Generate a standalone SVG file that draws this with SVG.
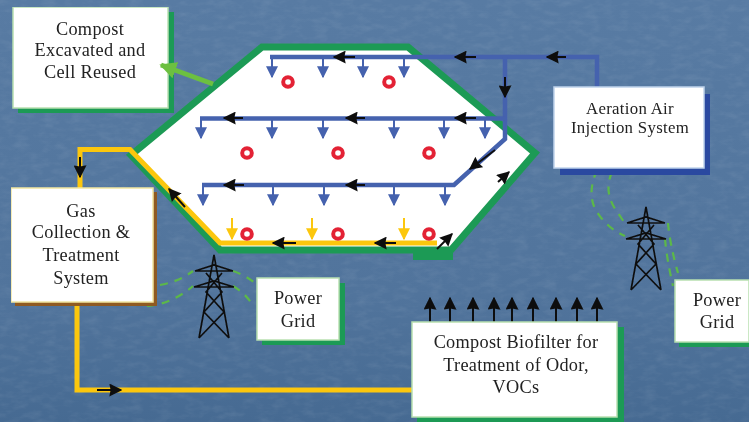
<svg xmlns="http://www.w3.org/2000/svg" width="749" height="422" viewBox="0 0 749 422">
<style>
text{font-family:"Liberation Serif","Times New Roman",serif;font-size:18.300px;letter-spacing:0.3px;fill:#222;text-anchor:middle}
.box{fill:#fff;stroke-width:1.5}
.bl{fill:none;stroke:#4562ae;stroke-width:4.5}
.yl{fill:none;stroke:#fcc710;stroke-width:5}
.gr{fill:none;stroke:#5cb848;stroke-width:2.2;stroke-dasharray:8 7}
.bk{fill:none;stroke:#111;stroke-width:2;marker-end:url(#ah)}
.dr{fill:none;stroke:#4562ae;stroke-width:2;marker-end:url(#bh)}
.yd{fill:none;stroke:#fcc710;stroke-width:2;marker-end:url(#yh)}
.ring{fill:#fff;stroke:#e32434;stroke-width:4}
.tw{fill:none;stroke:#111;stroke-width:1.7}
</style>
<defs>
<linearGradient id="bg" x1="0" y1="0" x2="0" y2="1"><stop offset="0" stop-color="#587ba3"/><stop offset="0.7" stop-color="#51749c"/><stop offset="1" stop-color="#466a92"/></linearGradient>
<filter id="tex" x="0" y="0" width="100%" height="100%"><feTurbulence type="fractalNoise" baseFrequency="0.07 0.16" numOctaves="3" seed="4"/><feColorMatrix values="0 0 0 0 1 0 0 0 0 1 0 0 0 0 1 0.9 0 0 0 -0.38"/></filter>
<filter id="soft" x="0" y="0" width="100%" height="100%"><feGaussianBlur stdDeviation="0.4"/></filter>
<marker id="ah" viewBox="0 0 10 10" refX="9" refY="5" markerWidth="13" markerHeight="13" markerUnits="userSpaceOnUse" orient="auto"><path d="M0 0L10 5L0 10L1 5Z" fill="#111"/></marker>
<marker id="bh" viewBox="0 0 10 10" refX="9" refY="5" markerWidth="12" markerHeight="12" markerUnits="userSpaceOnUse" orient="auto"><path d="M0 0L10 5L0 10Z" fill="#4562ae"/></marker>
<marker id="yh" viewBox="0 0 10 10" refX="9" refY="5" markerWidth="12" markerHeight="12" markerUnits="userSpaceOnUse" orient="auto"><path d="M0 0L10 5L0 10Z" fill="#fcc710"/></marker>
<marker id="lg" viewBox="0 0 10 10" refX="9" refY="5" markerWidth="17" markerHeight="17" markerUnits="userSpaceOnUse" orient="auto"><path d="M0 0L10 5L0 10Z" fill="#6cc040"/></marker>
<g id="tower" class="tw"><path d="M-15 83L0 0L15 83M-15 83L10 57L-8 37L8 18M15 83L-10 57L8 37L-8 18M-19 16H19M-20 32H20M-19 16L0 10L19 16M-20 32L0 26L20 32"/></g>
</defs>
<rect width="749" height="422" fill="url(#bg)"/>
<rect width="749" height="422" filter="url(#tex)" opacity="0.16"/>

<g filter="url(#soft)">
<g id="cell">
<path d="M413 253H453V260H413Z" fill="#1f9a54"/>
<path d="M262 47H408L535 153L451 250H220L131 155Z" fill="#fff" stroke="#1f9a54" stroke-width="7" stroke-linejoin="miter"/>
</g>

<g id="connectors">
<path class="bl" d="M270 57H597V87"/>
<path class="bl" d="M505 57V139L454 185H202"/>
<path class="bl" d="M200 118.500H505" stroke-width="4"/>
<path class="dr" d="M272 58V77"/><path class="dr" d="M323 58V77"/><path class="dr" d="M363 58V77"/><path class="dr" d="M404 58V77"/>
<path class="dr" d="M201 119V138"/><path class="dr" d="M272 119V138"/><path class="dr" d="M323 119V138"/><path class="dr" d="M394 119V138"/><path class="dr" d="M444 119V138"/><path class="dr" d="M485 119V138"/>
<path class="dr" d="M203 186V205"/><path class="dr" d="M273 186V205"/><path class="dr" d="M324 186V205"/><path class="dr" d="M394 186V205"/><path class="dr" d="M445 186V205"/>
<path class="yl" d="M80 188V149.500H130L220 243H437"/>
<path class="yl" d="M413 390H77V305"/>
<path class="yd" d="M232 218V239"/><path class="yd" d="M312 218V239"/><path class="yd" d="M404 218V239"/>
<path class="bk" d="M355 57H334"/>
<path class="bk" d="M476 57H455"/><path class="bk" d="M566 57H547"/>
<path class="bk" d="M505 77V97"/>
<path class="bk" d="M243 118H224"/><path class="bk" d="M365 118H346"/><path class="bk" d="M476 118H455"/>
<path class="bk" d="M244 185H224"/><path class="bk" d="M365 185H346"/>
<path class="bk" d="M495 150L470 169"/><path class="bk" d="M498 182L509 172"/>
<path class="bk" d="M80 157V177"/>
<path class="bk" d="M185 207L169 189"/>
<path class="bk" d="M296 243H273"/>
<path class="bk" d="M396 243H375"/>
<path class="bk" d="M437 249L452 234"/>
<path class="bk" d="M97 390H121"/>
<path class="bk" d="M430 322V298"/><path class="bk" d="M450 322V298"/><path class="bk" d="M473 322V298"/><path class="bk" d="M494 322V298"/><path class="bk" d="M512 322V298"/><path class="bk" d="M533 322V298"/><path class="bk" d="M556 322V298"/><path class="bk" d="M577 322V298"/><path class="bk" d="M597 322V298"/>
<path class="gr" d="M160 285Q178 282 193 271"/>
<path class="gr" d="M147 306Q172 304 193 286"/>
<path class="gr" d="M233 271Q245 275 255 283"/>
<path class="gr" d="M233 286Q245 293 252 304"/>
<path class="gr" d="M597 170Q586 195 597 212T625 236"/>
<path class="gr" d="M612 172Q604 190 614 207L624 222"/>
<path class="gr" d="M668 223Q670 245 678 273"/>
<path class="gr" d="M665 239Q667 260 673 286"/>
</g>

<g id="rings">
<circle class="ring" cx="288" cy="82" r="4.800"/><circle class="ring" cx="389" cy="82" r="4.800"/>
<circle class="ring" cx="247" cy="153" r="4.800"/><circle class="ring" cx="338" cy="153" r="4.800"/><circle class="ring" cx="429" cy="153" r="4.800"/>
<circle class="ring" cx="247" cy="234" r="4.800"/><circle class="ring" cx="338" cy="234" r="4.800"/><circle class="ring" cx="429" cy="234" r="4.800"/>
</g>

<g id="tower-left"><use href="#tower" x="214" y="255"/></g>
<g id="tower-right"><use href="#tower" x="646" y="207"/></g>

<g id="compost-excavated">
<rect x="18" y="12" width="156" height="101" fill="#1f9a54"/>
<rect class="box" x="13" y="7" width="155" height="101" stroke="#b8e0b0"/>
<text x="90" y="35">Compost</text><text x="90" y="56">Excavated and</text><text x="90" y="78">Cell Reused</text>
</g>
<path id="excavation-arrow" d="M213 84L161 65" stroke="#6cc040" stroke-width="5" fill="none" marker-end="url(#lg)"/>
<g id="aeration">
<rect x="560" y="94" width="150" height="81" fill="#2a48a0"/>
<rect class="box" x="554" y="87" width="150" height="81" stroke="#c0d4ec"/>
<text x="630" y="114" style="font-size:16.800px">Aeration Air</text><text x="630" y="133" style="font-size:16.800px">Injection System</text>
</g>
<g id="gas-collection">
<rect x="15" y="192" width="142" height="114" fill="#8f5a24"/>
<rect class="box" x="11" y="188" width="142" height="114" stroke="#f2e6a0"/>
<text x="81" y="217">Gas</text><text x="81" y="238">Collection &amp;</text><text x="81" y="261">Treatment</text><text x="81" y="284">System</text>
</g>
<g id="power-grid-left">
<rect x="262" y="283" width="83" height="62" fill="#1f9a54"/>
<rect class="box" x="257" y="278" width="82" height="62" stroke="#b8e0b0"/>
<text x="298" y="304">Power</text><text x="298" y="327">Grid</text>
</g>
<g id="power-grid-right">
<rect x="679" y="285" width="70" height="62" fill="#1f9a54"/>
<rect class="box" x="675" y="280" width="74" height="62" stroke="#b8e0b0"/>
<text x="717" y="306">Power</text><text x="717" y="328">Grid</text>
</g>
<g id="biofilter">
<rect x="417" y="327" width="207" height="95" fill="#1f9a54"/>
<rect class="box" x="412" y="322" width="205" height="95" stroke="#b8e0b0"/>
<text x="516" y="348">Compost Biofilter for</text><text x="516" y="371">Treatment of Odor,</text><text x="516" y="393">VOCs</text>
</g>
</g>
</svg>
